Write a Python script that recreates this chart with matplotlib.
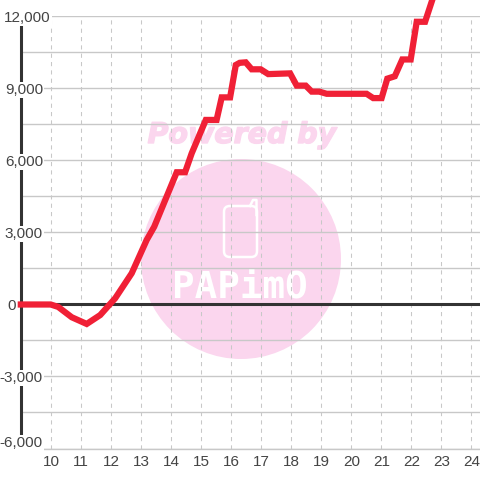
import matplotlib
matplotlib.use("Agg")
import matplotlib.pyplot as plt
import matplotlib.patheffects as pe
from matplotlib.patches import Circle, FancyBboxPatch

hours = [8.9, 10.0, 10.25, 10.7, 11.2, 11.65, 12.15, 12.7, 13.2, 13.45, 14.2, 14.48, 14.7, 15.17, 15.53,
         15.7, 15.98, 16.17, 16.3, 16.5, 16.7, 17.0, 17.25, 17.98, 18.2, 18.5, 18.7, 18.95, 19.2, 20.53,
         20.75, 21.03, 21.22, 21.47, 21.72, 22.0, 22.2, 22.48, 22.8]
values = [0, 0, -100, -530, -810, -440, 260, 1300, 2690, 3240, 5510, 5510, 6300, 7690, 7690,
          8630, 8630, 9980, 10070, 10090, 9800, 9800, 9600, 9630, 9120, 9120, 8870, 8870, 8780, 8780,
          8600, 8600, 9410, 9510, 10210, 10210, 11780, 11780, 13000]
x_ticks = list(range(10, 25))
y_minor = [-4500, -1500, 1500, 4500, 7500, 10500]
y_labels = {12000: "12,000", 9000: "9,000", 6000: "6,000", 3000: "3,000", 0: "0", -3000: "-3,000", -6000: "-6,000"}

W = 480
plt.rcParams["font.family"] = "Liberation Sans"
fig = plt.figure(figsize=(4.8, 4.8), dpi=100, facecolor="white")
ax = fig.add_axes([20.7 / W, 1 - 448.5 / W, (W - 20.7) / W, 432 / W])
ax.set_xlim(9, 9 + (W - 20.7) / 30)
ax.set_ylim(-6000, 12000)
for s in ax.spines.values():
    s.set_visible(False)
ax.set_xticks([])
ax.set_yticks([])

GRID = "#c8c8c8"
INK = "#333333"
PINK = "#fbd6ee"

# watermark, under the grid
ax.add_artist(Circle((241 / W, 1 - 259 / W), 100 / W, transform=fig.transFigure, color=PINK, lw=0, zorder=0.5))
ax.text(242 / W, 1 - 135 / W, "Powered by", transform=fig.transFigure, ha="center", va="center", color=PINK,
        fontsize=20.5, fontweight="bold", fontstyle="italic", family="DejaVu Sans", zorder=0.5,
        path_effects=[pe.withStroke(linewidth=1.0, foreground=PINK)])
ax.add_artist(FancyBboxPatch((224 / W, 1 - 257 / W), 33 / W, 51 / W, boxstyle="round,pad=0,rounding_size=0.012",
                             transform=fig.transFigure, fc="none", ec="white", lw=1.8, zorder=0.6))
ax.plot([250 / W, 253 / W, 256.5 / W, 256.5 / W], [1 - 206 / W, 1 - 200 / W, 1 - 200 / W, 1 - 215 / W],
        transform=fig.transFigure, color="white", lw=1.8, zorder=0.6, clip_on=False)
ax.text(240 / W, 1 - 288 / W, "PAPimO", transform=fig.transFigure, ha="center", va="center", color="white",
        fontsize=27, fontweight="bold", family="DejaVu Sans Mono", zorder=0.6)

for x in x_ticks:
    ax.axvline(x, color=GRID, lw=0.75, ls=(0, (4, 4)), zorder=1)
for y in list(y_labels) + y_minor:
    ax.axhline(y, color=GRID, lw=1.0, zorder=1)
ax.plot([9, 24.4], [-6000, -6000], color=GRID, lw=1.0, zorder=1, clip_on=False)
ax.axhline(0, color=INK, lw=2.2, zorder=2)
ax.plot([9, 9], [-6000, 12000], color=INK, lw=2.2, zorder=2, solid_capstyle="butt", clip_on=False)

ax.plot(hours, values, color="#f02036", lw=4.5, solid_joinstyle="miter", solid_capstyle="butt", zorder=6, clip_on=False)

label_pos = {12000: (10.0, 12000), 9000: (9.74, 9000), 6000: (9.74, 6000), 3000: (9.74, 3000),
             0: (8.84, 0), -3000: (9.74, -3000), -6000: (9.74, -5720)}
for key, text in y_labels.items():
    px, py = label_pos[key]
    ax.text(px, py, text, ha="right", va="center_baseline", fontsize=11, color="#444444", zorder=5, clip_on=False,
            bbox=dict(fc="white", ec="none", pad=2.5 if key == 0 else 1.0))
for x in x_ticks:
    ax.text(x + 0.02, -6520, str(x), ha="center", va="center_baseline", fontsize=11, color="#444444", clip_on=False)

fig.savefig("out.png", dpi=100, facecolor="white")
